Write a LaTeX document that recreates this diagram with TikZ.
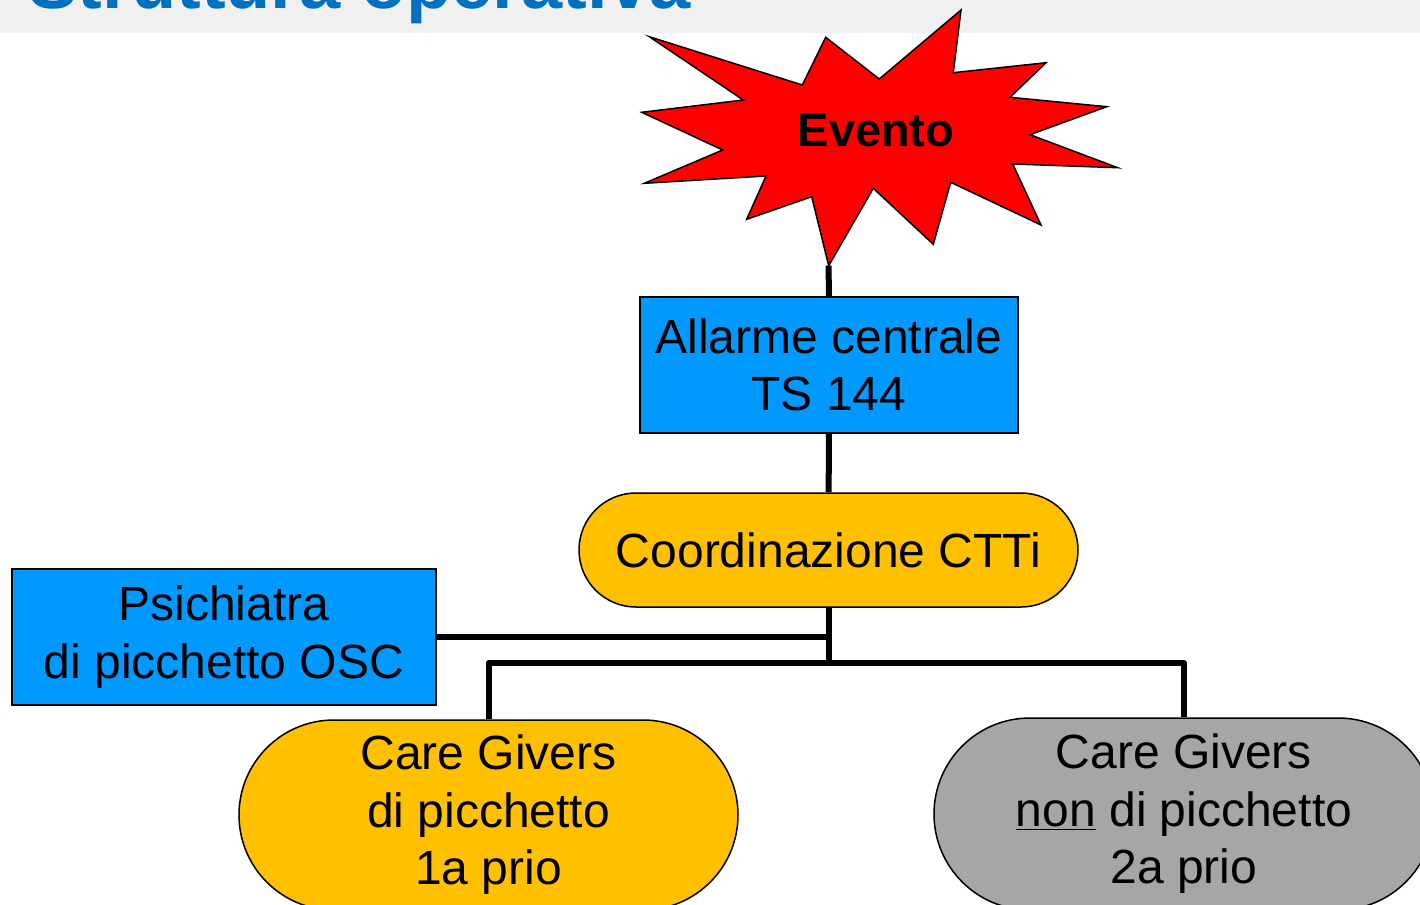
\documentclass[tikz,border=0pt]{standalone}
\usepackage{fontspec}
\setmainfont{Liberation Sans}
\usetikzlibrary{shapes.misc}

\definecolor{boxblue}{HTML}{0099FF}
\definecolor{prioyellow}{HTML}{FFC000}
\definecolor{priogrey}{HTML}{A6A6A6}
\definecolor{titleblue}{HTML}{0070C0}
\definecolor{bandgrey}{HTML}{F0F0F0}

\begin{document}
\begin{tikzpicture}[x=0.5pt,y=-0.5pt]
  \tikzset{box/.style={draw=black,line width=0.75pt,align=center,inner sep=0pt,
      font=\fontsize{24}{28.75}\selectfont},
    bluebox/.style={box,rectangle,fill=boxblue,minimum height=68pt},
    pill/.style={box,rounded rectangle,minimum width=249.5pt},
    link/.style={line width=3pt,line join=round}}
  \useasboundingbox (0,0) rectangle (1420,905);
  \clip (0,0) rectangle (1420,905);
  % title band
  \fill[bandgrey] (0,0) rectangle (1420,33);
  \node[anchor=base west,inner sep=0pt,text=titleblue,
    font=\fontsize{37}{44}\selectfont\bfseries] (title) at (28,8) {Struttura operativa};
  % the event
  \filldraw[fill=red,draw=black,line width=0.75pt,line join=miter]
    (649.3,36.7) -- (802.3,85) -- (825.7,37.3) -- (879.3,79) -- (961,10)
    -- (953.3,72.7) -- (1046,62.7) -- (1010,97.3) -- (1106.7,106.7)
    -- (1030,134.7) -- (1117.7,167.7) -- (1012.7,164) -- (1041,225)
    -- (950.7,182.3) -- (933.3,244.3) -- (873.3,188.3) -- (828.7,265.7)
    -- (811.7,196.7) -- (746.7,219.3) -- (766,176) -- (644.3,183.3)
    -- (722.7,150) -- (641.7,112.3) -- (743.3,100) -- cycle;
  \node[font=\fontsize{23.5}{28}\selectfont\bfseries] (evento) at (876,131) {Evento};
  \coordinate (tip) at (828.7,265.7);
  % boxes
  \node[bluebox,minimum width=189pt] (alarm) at (829,365) {Allarme centrale\\TS 144};
  \node[pill,fill=prioyellow,minimum height=57pt] (ctti) at (828.5,550) {Coordinazione CTTi};
  \node[bluebox,minimum width=212pt] (psich) at (224,637) {Psichiatra\\di picchetto OSC};
  \node[pill,fill=prioyellow,minimum height=95pt] (care1) at (488.5,815)
    {Care Givers\\di picchetto\\1a prio};
  \node[pill,fill=priogrey,minimum height=96pt,minimum width=250pt] (care2) at (1184,814)
    {Care Givers\\\underline{non} di picchetto\\2a prio};
  \coordinate (split) at (828.5,663);
  % links
  \draw[link] (tip) -- (alarm);
  \draw[link] (alarm) -- (ctti);
  \draw[link] (ctti.south) |- (psich.east);
  \draw[link] (ctti.south) -- (split) -| (care1.north);
  \draw[link] (split) -| (care2.north);
\end{tikzpicture}
\end{document}
